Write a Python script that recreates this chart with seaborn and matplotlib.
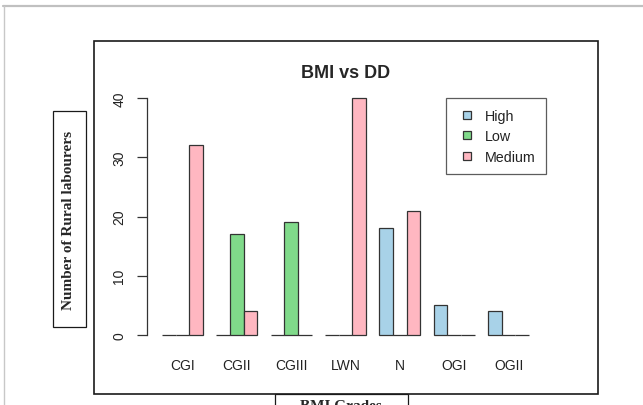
import pandas as pd
import numpy as np
import matplotlib
matplotlib.use('Agg')
import matplotlib.pyplot as plt
from matplotlib.patches import Rectangle
from matplotlib.lines import Line2D
import seaborn as sns

# Data
grades = ['CGI', 'CGII', 'CGIII', 'LWN', 'N', 'OGI', 'OGII']
bmi_levels = ['High', 'Low', 'Medium']
high = [0, 0, 0, 0, 18, 5, 4]
low = [0, 17, 19, 0, 0, 0, 0]
medium = [32, 4, 0, 40, 21, 0, 0]
colors = ['#a8d2e8', '#80da8a', '#ffb7c1']

df = pd.DataFrame({
    'Grade': grades * 3,
    'BMI': ['High'] * 7 + ['Low'] * 7 + ['Medium'] * 7,
    'Count': high + low + medium,
})

sns.set_style('white')
plt.rcParams['font.family'] = ['Liberation Sans', 'DejaVu Sans']

W, H = 643, 406
fig = plt.figure(figsize=(W / 100, H / 100), dpi=100)
fig.patch.set_facecolor('white')

def fx(px):
    return px / W

def fy(py):
    return 1 - py / H

ax = fig.add_axes([fx(147.3), fy(345.5), fx(543.7 - 147.3), (345.5 - 89.5) / H])

sns.barplot(data=df, x='Grade', y='Count', hue='BMI', order=grades,
            hue_order=bmi_levels, palette=colors, width=0.75,
            edgecolor='#333333', linewidth=0.9, errorbar=None,
            legend=False, saturation=1, ax=ax)

ax.set_xlim(-0.645, 6.645)
ax.set_ylim(-1.6, 41.6)
ax.set_yticks([0, 10, 20, 30, 40])
ax.set_xlabel('')
ax.set_ylabel('')
for s in ['top', 'right', 'bottom']:
    ax.spines[s].set_visible(False)
ax.spines['left'].set_bounds(0, 40)
ax.spines['left'].set_color('#333333')
ax.spines['left'].set_linewidth(0.9)
ax.tick_params(axis='y', left=True, length=7, width=0.9, color='#333333', pad=8,
               labelsize=10, labelcolor='#222222')
ax.tick_params(axis='x', bottom=False, length=0, pad=9.5, labelsize=10,
               labelcolor='#222222')
for lab in ax.get_yticklabels():
    lab.set_rotation(90)
    lab.set_va('center')
ax.patch.set_alpha(0)

ax.text(0.5, 1 + 11.5 / 256, 'BMI vs DD', transform=ax.transAxes,
        ha='center', va='baseline', fontsize=13, fontweight='bold')

handles = [Line2D([], [], marker='s', linestyle='none', markersize=6,
                  markerfacecolor=c, markeredgecolor='#333333',
                  markeredgewidth=0.9) for c in colors]
leg = fig.legend(handles, bmi_levels, loc='upper left',
                 bbox_to_anchor=(fx(446), fy(99)), bbox_transform=fig.transFigure,
                 fontsize=10.3, frameon=True, fancybox=False, borderaxespad=0,
                 borderpad=0.75, handlelength=1.5, handletextpad=0.47,
                 labelspacing=0.45)
leg.get_frame().set_edgecolor('#333333')
leg.get_frame().set_linewidth(0.9)
for t in leg.get_texts():
    t.set_color('#222222')

# page decorations around the chart
fig.add_artist(Line2D([fx(3), fx(643)], [fy(7), fy(7)], color='#c0c0c0', lw=1.6))
fig.add_artist(Line2D([fx(4), fx(4)], [fy(7), fy(406)], color='#c8c8c8', lw=1.0))
fig.add_artist(Rectangle((fx(94), fy(395)), fx(598 - 94), (395 - 42) / H,
                         fill=False, edgecolor='#1a1a1a', lw=1.2))
fig.add_artist(Rectangle((fx(53), fy(328)), fx(86 - 53), (328 - 112) / H,
                         fill=False, edgecolor='#1a1a1a', lw=0.9))
fig.add_artist(Rectangle((fx(275), fy(415)), fx(408 - 275), (415 - 395) / H,
                         facecolor='white', edgecolor='#1a1a1a', lw=0.9))
fig.text(fx(69), fy(220), 'Number of Rural labourers', rotation=90,
         ha='center', va='center', fontsize=11, fontweight='bold',
         family=['Liberation Serif', 'DejaVu Serif'])
fig.text(fx(341), fy(400), 'BMI Grades', ha='center', va='top',
         fontsize=11, fontweight='bold', family=['Liberation Serif', 'DejaVu Serif'])

fig.savefig('out.png', dpi=100)
